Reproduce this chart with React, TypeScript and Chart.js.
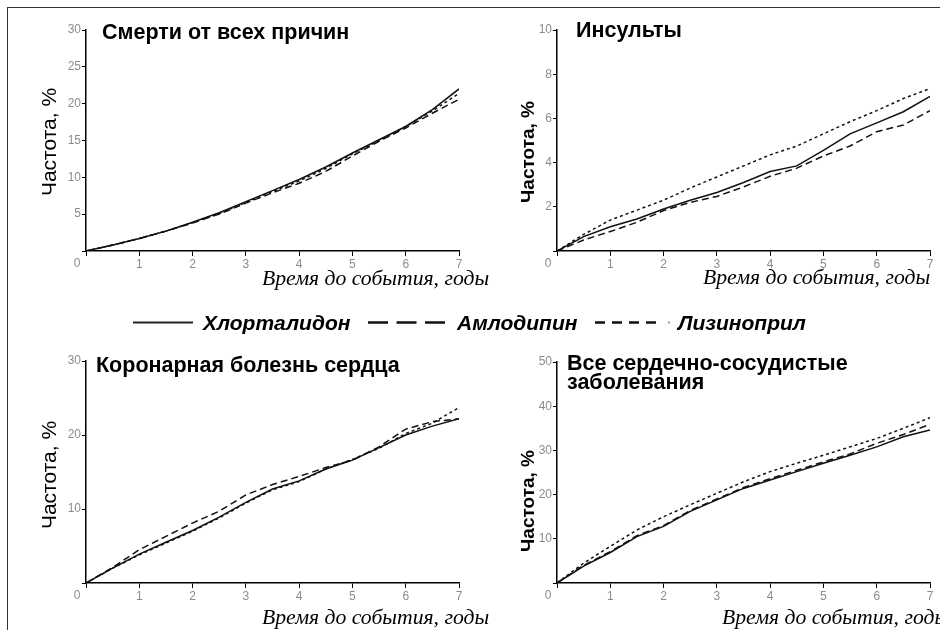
import React, { useEffect, useRef } from 'react';
import { Chart, registerables } from 'chart.js';

Chart.register(...registerables);

// ---- data ----
const years = [0, 0.5, 1, 1.5, 2, 2.5, 3, 3.5, 4, 4.5, 5, 5.5, 6, 6.5, 7];
const seriesNames = ['Хлорталидон', 'Амлодипин', 'Лизиноприл'];

// Смерти от всех причин
const deathChlor = [0, 0.8, 1.7, 2.7, 3.9, 5.2, 6.7, 8.2, 9.7, 11.4, 13.3, 15.1, 16.9, 19.2, 22.0];
const deathAmlo = [0, 0.8, 1.7, 2.7, 3.8, 5.0, 6.5, 7.9, 9.2, 10.8, 12.9, 14.9, 16.7, 18.7, 20.6];
const deathLisin = [0, 0.8, 1.7, 2.7, 3.85, 5.1, 6.6, 8.1, 9.5, 11.2, 13.2, 15.0, 16.9, 19.0, 21.4];

// Инсульты
const strokeChlor = [0, 0.65, 1.1, 1.45, 1.9, 2.3, 2.65, 3.1, 3.6, 3.85, 4.55, 5.3, 5.8, 6.3, 7.0];
const strokeAmlo = [0, 0.5, 0.88, 1.3, 1.83, 2.2, 2.47, 2.9, 3.38, 3.75, 4.3, 4.75, 5.4, 5.7, 6.35];
const strokeLisin = [0, 0.75, 1.4, 1.85, 2.3, 2.85, 3.35, 3.85, 4.35, 4.75, 5.3, 5.85, 6.35, 6.9, 7.35];

// Коронарная болезнь сердца
const chdChlor = [0, 2.0, 3.9, 5.5, 7.1, 8.9, 10.9, 12.7, 13.8, 15.4, 16.6, 18.3, 20.0, 21.2, 22.2];
const chdAmlo = [0, 2.1, 4.5, 6.3, 8.1, 9.7, 11.9, 13.3, 14.4, 15.6, 16.6, 18.4, 20.8, 21.8, 22.2];
const chdLisin = [0, 2.0, 3.8, 5.4, 7.0, 8.8, 10.8, 12.6, 13.7, 15.4, 16.7, 18.2, 20.2, 21.6, 23.7];

// Все сердечно-сосудистые заболевания
const cvdChlor = [0, 3.8, 6.9, 10.5, 12.8, 16.2, 18.8, 21.4, 23.3, 25.2, 27.1, 28.9, 30.8, 33.1, 34.6];
const cvdAmlo = [0, 4.0, 7.1, 10.7, 13.0, 16.4, 19.0, 21.6, 23.6, 25.5, 27.4, 29.2, 31.6, 33.6, 35.9];
const cvdLisin = [0, 4.5, 8.3, 12.0, 15.0, 17.7, 20.3, 22.9, 25.2, 27.1, 28.9, 30.8, 32.7, 35.0, 37.4];

const dashes: number[][] = [[], [7, 4], [3, 3]];

const SANS = '"Liberation Sans", Arial, sans-serif';
const SERIF = '"Liberation Serif", "Times New Roman", serif';
const TICK_COLOR = '#8c8c8c';
const LINE_COLOR = '#111';

const originLabel = {
  id: 'originLabel',
  afterDraw(chart: any) {
    const { ctx, scales } = chart;
    const x0 = scales.x.getPixelForValue(0);
    const y0 = scales.y.getPixelForValue(0);
    ctx.save();
    ctx.font = '12px ' + SANS;
    ctx.fillStyle = TICK_COLOR;
    ctx.textAlign = 'center';
    ctx.textBaseline = 'middle';
    ctx.fillText('0', x0 - 9, y0 + 13);
    ctx.restore();
  },
};

type PanelProps = {
  left: number;
  top: number;
  width: number;
  height: number;
  padTop: number;
  padRight: number;
  yWidth: number;
  xHeight: number;
  yMax: number;
  yStep: number;
  values: number[][];
};

function Panel(p: PanelProps) {
  const ref = useRef<HTMLCanvasElement>(null);
  useEffect(() => {
    const chart = new Chart(ref.current as HTMLCanvasElement, {
      type: 'line',
      data: {
        datasets: p.values.map((vals, i) => ({
          label: seriesNames[i],
          data: years.map((x, j) => ({ x, y: vals[j] })),
          borderColor: LINE_COLOR,
          borderWidth: 1.5,
          borderDash: dashes[i],
          pointRadius: 0,
          fill: false,
          tension: 0,
        })),
      },
      options: {
        animation: false,
        responsive: false,
        devicePixelRatio: 1,
        layout: { padding: { top: p.padTop, right: p.padRight, left: 0, bottom: 0 } },
        plugins: { legend: { display: false }, tooltip: { enabled: false } },
        scales: {
          x: {
            type: 'linear',
            min: 0,
            max: 7,
            afterFit: (s: any) => {
              s.height = p.xHeight;
            },
            border: { display: true, color: '#000', width: 1.5 },
            grid: { display: true, drawOnChartArea: false, drawTicks: true, tickLength: 5, color: '#000', lineWidth: 1 },
            ticks: {
              stepSize: 1,
              padding: 1,
              maxRotation: 0,
              autoSkip: false,
              color: TICK_COLOR,
              font: { size: 12, family: SANS },
              callback: (v: any) => (v === 0 ? '' : String(v)),
            },
          },
          y: {
            type: 'linear',
            min: 0,
            max: p.yMax,
            afterFit: (s: any) => {
              s.width = p.yWidth;
            },
            border: { display: true, color: '#000', width: 1.5 },
            grid: { display: true, drawOnChartArea: false, drawTicks: true, tickLength: 4, color: '#000', lineWidth: 1 },
            ticks: {
              stepSize: p.yStep,
              padding: 1,
              color: TICK_COLOR,
              font: { size: 12, family: SANS },
              callback: (v: any) => (v === 0 ? '' : String(v)),
            },
          },
        },
      },
      plugins: [originLabel],
    } as any);
    return () => chart.destroy();
  }, []);
  return (
    <canvas
      ref={ref}
      width={p.width}
      height={p.height}
      style={{ position: 'absolute', left: p.left, top: p.top, width: p.width, height: p.height }}
    />
  );
}

const abs = (left: number, top: number, extra: React.CSSProperties = {}): React.CSSProperties => ({
  position: 'absolute',
  left,
  top,
  whiteSpace: 'nowrap',
  ...extra,
});

const titleStyle: React.CSSProperties = {
  fontFamily: SANS,
  fontWeight: 'bold',
  fontSize: 21.5,
  lineHeight: '21px',
  color: '#000',
};

const xTitleStyle: React.CSSProperties = {
  fontFamily: SERIF,
  fontStyle: 'italic',
  fontSize: 21.7,
  lineHeight: '21px',
  color: '#000',
};

function YTitle({ cx, cy, bold }: { cx: number; cy: number; bold: boolean }) {
  const size = bold ? 19 : 21;
  return (
    <div
      style={abs(cx, cy, {
        fontFamily: SANS,
        fontWeight: bold ? 'bold' : 'normal',
        fontSize: size,
        lineHeight: size + 'px',
        transform: 'translate(-50%, -50%) rotate(-90deg)',
        color: '#000',
      })}
    >
      Частота, %
    </div>
  );
}

const legendText: React.CSSProperties = {
  fontFamily: SANS,
  fontWeight: 'bold',
  fontStyle: 'italic',
  fontSize: 21,
  lineHeight: '21px',
  color: '#000',
};

export default function App() {
  return (
    <div
      style={{
        position: 'absolute',
        left: 0,
        top: 0,
        width: 940,
        height: 630,
        overflow: 'hidden',
        background: '#fff',
      }}
    >
      <div
        style={{
          position: 'absolute',
          left: 7,
          top: 7,
          width: 940,
          height: 640,
          borderTop: '1.5px solid #333',
          borderLeft: '1.5px solid #333',
        }}
      />
      <Panel left={40} top={20} width={430} height={260} padTop={10} padRight={11} yWidth={46} xHeight={29} yMax={30} yStep={5} values={[deathChlor, deathAmlo, deathLisin]} />
      <Panel left={510} top={20} width={430} height={260} padTop={10} padRight={10} yWidth={47} xHeight={29} yMax={10} yStep={2} values={[strokeChlor, strokeAmlo, strokeLisin]} />
      <Panel left={40} top={350} width={430} height={262} padTop={11} padRight={11} yWidth={46} xHeight={29} yMax={30} yStep={10} values={[chdChlor, chdAmlo, chdLisin]} />
      <Panel left={510} top={350} width={430} height={262} padTop={12} padRight={10} yWidth={47} xHeight={29} yMax={50} yStep={10} values={[cvdChlor, cvdAmlo, cvdLisin]} />

      <div style={abs(102, 22, titleStyle)}>Смерти от всех причин</div>
      <div style={abs(576, 20, titleStyle)}>Инсульты</div>
      <div style={abs(96, 355, titleStyle)}>Коронарная болезнь сердца</div>
      <div style={abs(567, 354, { ...titleStyle, lineHeight: '19px' })}>
        Все сердечно-сосудистые
        <br />
        заболевания
      </div>

      <YTitle cx={48} cy={142} bold={false} />
      <YTitle cx={527} cy={152} bold={true} />
      <YTitle cx={48} cy={475} bold={false} />
      <YTitle cx={527} cy={501} bold={true} />

      <div style={abs(262, 268, xTitleStyle)}>Время до события, годы</div>
      <div style={abs(703, 267, xTitleStyle)}>Время до события, годы</div>
      <div style={abs(262, 607, xTitleStyle)}>Время до события, годы</div>
      <div style={abs(722, 607, xTitleStyle)}>Время до события, годы</div>

      <svg style={{ position: 'absolute', left: 0, top: 0 }} width={940} height={630}>
        <line x1={133} y1={322.5} x2={193} y2={322.5} stroke="#222" strokeWidth={2} />
        <line x1={368} y1={322.5} x2={445} y2={322.5} stroke="#111" strokeWidth={2.5} strokeDasharray="20 8.5" />
        <line x1={595} y1={322.5} x2={656} y2={322.5} stroke="#111" strokeWidth={2.5} strokeDasharray="10 7" />
        <line x1={668} y1={322.5} x2={670} y2={322.5} stroke="#999" strokeWidth={2} />
      </svg>
      <div style={abs(203, 312, legendText)}>Хлорталидон</div>
      <div style={abs(457, 312, legendText)}>Амлодипин</div>
      <div style={abs(678, 312, legendText)}>Лизиноприл</div>
    </div>
  );
}
